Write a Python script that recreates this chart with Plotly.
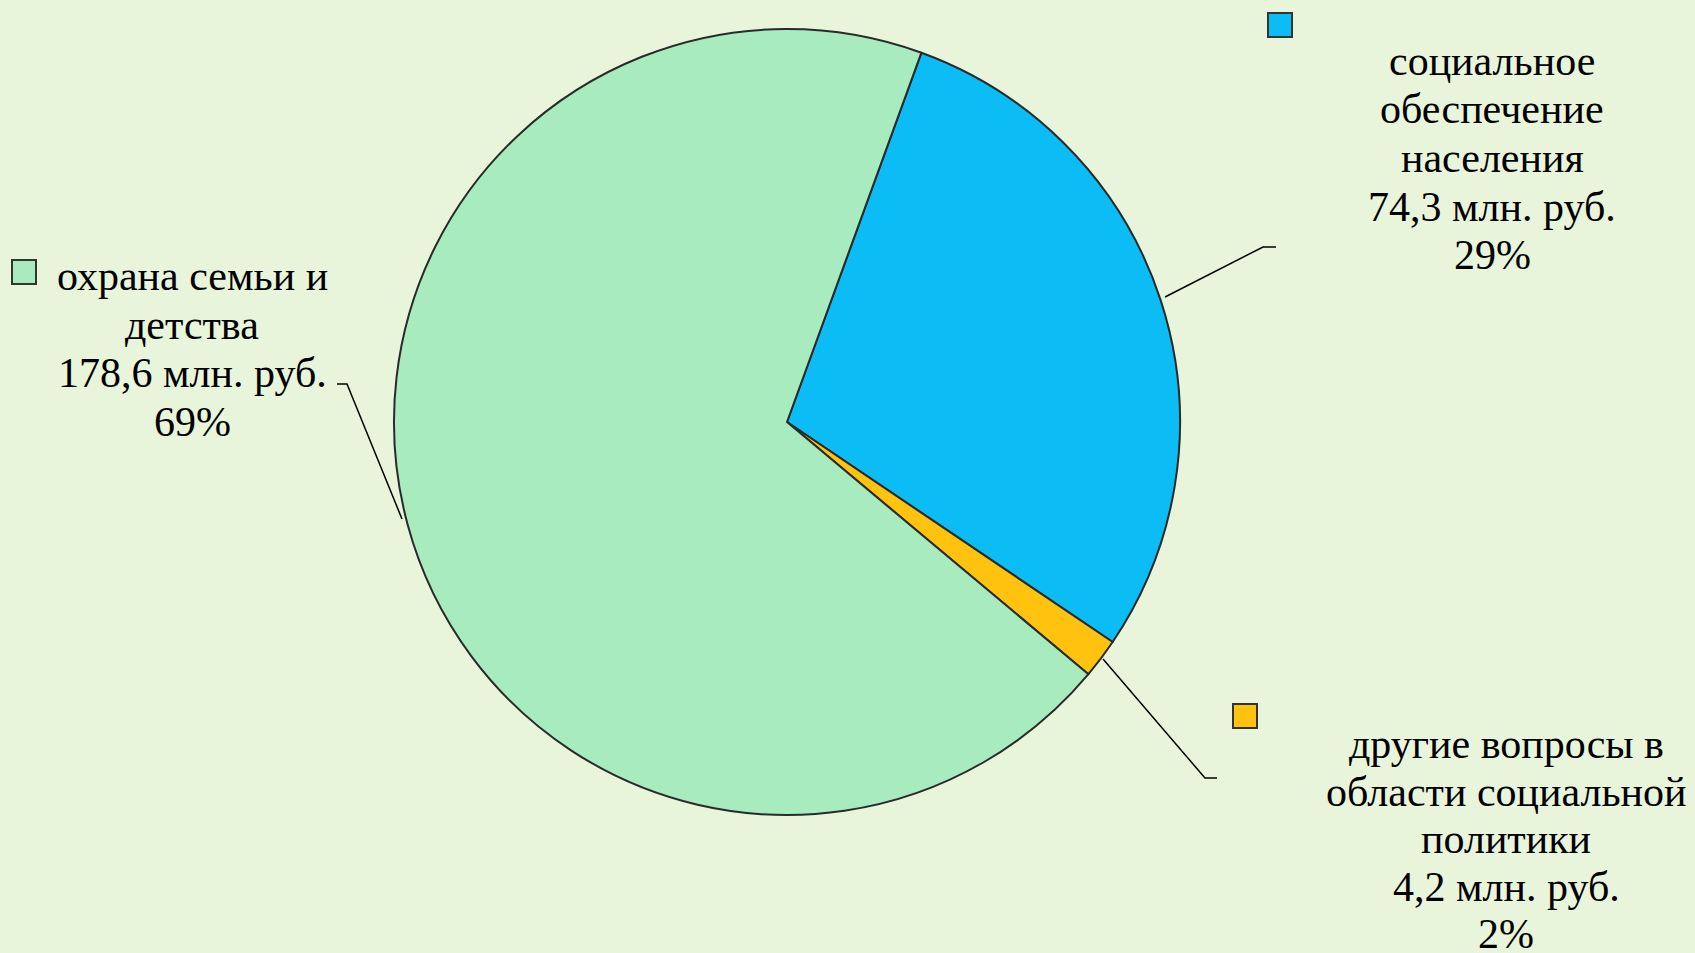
import plotly.graph_objects as go

# ---- data ----
categories = ["социальное обеспечение населения", "другие вопросы в области социальной политики", "охрана семьи и детства"]
label_lines = [["социальное", "обеспечение", "населения"],
               ["другие вопросы в", "области социальной", "политики"],
               ["охрана семьи и", "детства"]]
values = [74.3, 4.2, 178.6]
colors = ["#0BBDF4", "#FFC20E", "#A8EBBF"]

W, H = 1695, 953
BG = "#E8F5DB"
FONT = "Liberation Serif"
FS = 42
PITCH = 48.5

def px(x):
    return x / W

def py(y):
    return 1 - y / H

total = sum(values)
pcts = [round(v / total * 100) for v in values]

cx, cy, r = 787, 422, 393

fig = go.Figure(go.Pie(
    labels=categories,
    values=values,
    sort=False,
    direction="clockwise",
    rotation=20,
    marker=dict(colors=colors, line=dict(color="#2a2a2a", width=2)),
    textinfo="none",
    hoverinfo="label+value+percent",
    showlegend=False,
    domain=dict(x=[px(cx - r), px(cx + r)], y=[py(cy + r), py(cy - r)]),
))

# label placement (layout only): text centre x, first line centre y, line pitch, marker centre
label_pos = [
    dict(x=1492, y0=61, pitch=PITCH, mx=1280, my=25),
    dict(x=1506, y0=744, pitch=47.5, mx=1245, my=716),
    dict(x=192, y0=276, pitch=PITCH, mx=24, my=272),
]
leaders = [
    [(1165, 297), (1263, 247), (1276, 247)],
    [(1103, 659), (1205, 778), (1217, 778)],
    [(402, 519), (347, 384), (337, 384)],
]

annotations = []
shapes = []
for i in range(len(values)):
    lines = list(label_lines[i])
    lines.append(f"{values[i]:.1f}".replace(".", ",") + " млн. руб.")
    lines.append(f"{pcts[i]}%")
    p = label_pos[i]
    for k, t in enumerate(lines):
        annotations.append(dict(
            x=px(p["x"]), y=py(p["y0"] + k * p["pitch"]), xref="paper", yref="paper",
            text=t, showarrow=False, xanchor="center", yanchor="middle",
            font=dict(family=FONT, size=FS, color="#000000"),
        ))
    s = 12
    shapes.append(dict(type="rect", xref="paper", yref="paper",
                       x0=px(p["mx"] - s), x1=px(p["mx"] + s),
                       y0=py(p["my"] + s), y1=py(p["my"] - s),
                       fillcolor=colors[i], line=dict(color="#333333", width=2)))
    pts = leaders[i]
    path = "M " + " L ".join(f"{px(a):.5f},{py(b):.5f}" for a, b in pts)
    shapes.append(dict(type="path", xref="paper", yref="paper", path=path,
                       line=dict(color="#000000", width=1.5)))

fig.update_layout(
    width=W, height=H,
    margin=dict(l=0, r=0, t=0, b=0),
    paper_bgcolor=BG, plot_bgcolor=BG,
    annotations=annotations, shapes=shapes,
)

fig.write_html("out.html",
               config={"displayModeBar": False},
               post_script="document.body.style.margin='0';document.body.style.overflow='hidden';document.body.style.background='" + BG + "';")
